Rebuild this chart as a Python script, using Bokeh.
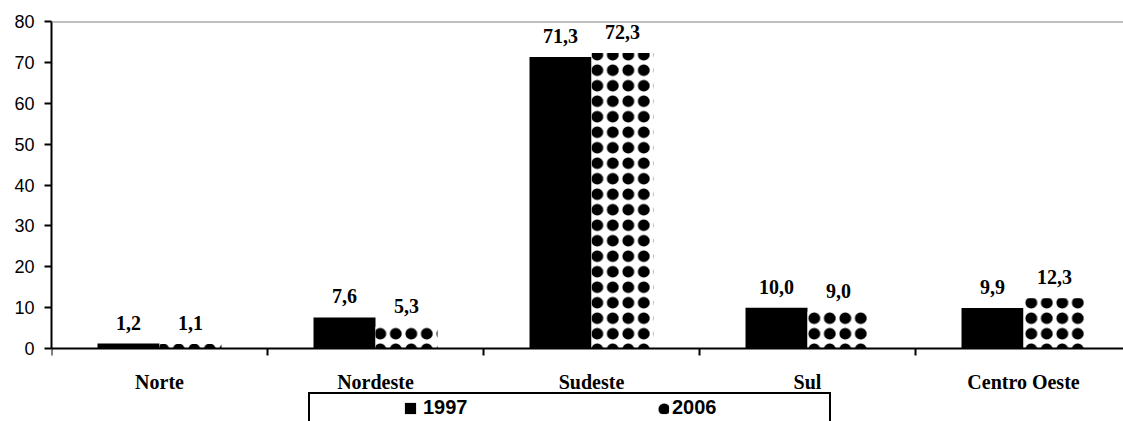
import math
from bokeh.plotting import figure
from bokeh.models import FixedTicker, Span, Legend, LegendItem, ColumnDataSource, Range1d
from bokeh.embed import file_html
from bokeh.resources import INLINE

regions = ["Norte", "Nordeste", "Sudeste", "Sul", "Centro Oeste"]
v1997 = [1.2, 7.6, 71.3, 10.0, 9.9]
v2006 = [1.1, 5.3, 72.3, 9.0, 12.3]
series_names = ["1997", "2006"]
y_ticks = [0, 10, 20, 30, 40, 50, 60, 70, 80]

BAR_W = 0.287
n = len(regions)
centers = [i + 0.5 for i in range(n)]
bounds_x = list(range(n))
fmt = lambda v: f"{v:.1f}".replace(".", ",")

src97 = ColumnDataSource(dict(x=[c - BAR_W / 2 for c in centers], top=v1997,
                              lab=[fmt(v) for v in v1997]))
src06 = ColumnDataSource(dict(x=[c + BAR_W / 2 for c in centers], top=v2006,
                              lab=[fmt(v) for v in v2006]))

# frame: left 51, top 21, right 1123, bottom 421 ; 80 units -> 327 px
PX_PER_UNIT = 327 / 80
y_min = 80 - 400 / PX_PER_UNIT
x_max = 1072 / 216

p = figure(width=1123, height=421, x_range=Range1d(0, x_max), y_range=Range1d(y_min, 80),
           output_backend="svg", toolbar_location=None, x_axis_location=None,
           min_border_left=51, min_border_right=0, min_border_top=21, min_border_bottom=0)
p.outline_line_color = None
p.xgrid.visible = False
p.ygrid.visible = False
p.background_fill_color = "white"
p.border_fill_color = "white"

r97 = p.vbar(x="x", top="top", bottom=0, width=BAR_W, source=src97,
             fill_color="black", line_color=None)
# 2006: white bar with a grid of solid black spots (ring + dot hatch layered)
r06 = p.vbar(x="x", top="top", bottom=0, width=BAR_W, source=src06, fill_color="white",
             line_color=None, hatch_pattern="ring", hatch_color="black",
             hatch_scale=15.5, hatch_weight=4)
r06b = p.vbar(x="x", top="top", bottom=0, width=BAR_W, source=src06, fill_alpha=0,
              line_color=None, hatch_pattern="dot", hatch_color="black",
              hatch_scale=15.5, hatch_weight=1)

for s in (src97, src06):
    p.text(x="x", y="top", text="lab", source=s, text_align="center", text_baseline="middle",
           y_offset=-21, text_font="Liberation Serif", text_font_style="bold",
           text_font_size="20px", text_color="black")

# top border line and x axis line
p.add_layout(Span(location=80, dimension="width", line_color="#808080", line_width=2))
p.add_layout(Span(location=0, dimension="width", line_color="black", line_width=2))

# category boundary ticks
p.ray(x=bounds_x, y=[0] * n, length=7, length_units="screen", angle=-math.pi / 2,
      line_color="black", line_width=2)

# category labels
p.text(x=centers, y=[0] * n, text=regions, text_align="center", text_baseline="middle",
       y_offset=33, text_font="Liberation Serif", text_font_style="bold",
       text_font_size="20px", text_color="black")

# y axis
ya = p.yaxis[0]
ya.ticker = FixedTicker(ticks=y_ticks, minor_ticks=[])
ya.bounds = (0, 80)
ya.major_tick_out = 7
ya.major_tick_in = 0
ya.major_tick_line_width = 2
ya.major_tick_line_color = "black"
ya.minor_tick_line_color = None
ya.axis_line_color = "black"
ya.axis_line_width = 2
ya.major_label_standoff = 10
ya.major_label_text_font = "Liberation Sans"
ya.major_label_text_font_size = "18px"
ya.major_label_text_color = "black"

# legend box
dummy = p.vbar(x=[], top=[], width=0.1, fill_alpha=0, line_alpha=0)
box = Legend(items=[LegendItem(label=" ", renderers=[dummy])], location=(257, -7),
             padding=6, margin=0, glyph_width=1, glyph_height=20, label_standoff=0,
             label_width=519 - 12 - 1, border_line_color="black", border_line_width=2,
             border_line_alpha=1.0, background_fill_alpha=0, label_text_font_size="20px")
p.add_layout(box, "center")

legA = Legend(items=[LegendItem(label=series_names[0], renderers=[r97])], location=(352, 2),
              padding=0, margin=0, glyph_width=14, glyph_height=14, label_standoff=6,
              border_line_alpha=0, background_fill_alpha=0,
              label_text_font="Liberation Sans", label_text_font_style="bold",
              label_text_font_size="20px", label_text_color="black")
legB = Legend(items=[LegendItem(label=series_names[1], renderers=[r06, r06b])],
              location=(605, 2),
              padding=0, margin=0, glyph_width=14, glyph_height=14, label_standoff=2,
              border_line_alpha=0, background_fill_alpha=0,
              label_text_font="Liberation Sans", label_text_font_style="bold",
              label_text_font_size="20px", label_text_color="black")
p.add_layout(legA, "center")
p.add_layout(legB, "center")

open("out.html", "w").write(file_html(p, INLINE))
